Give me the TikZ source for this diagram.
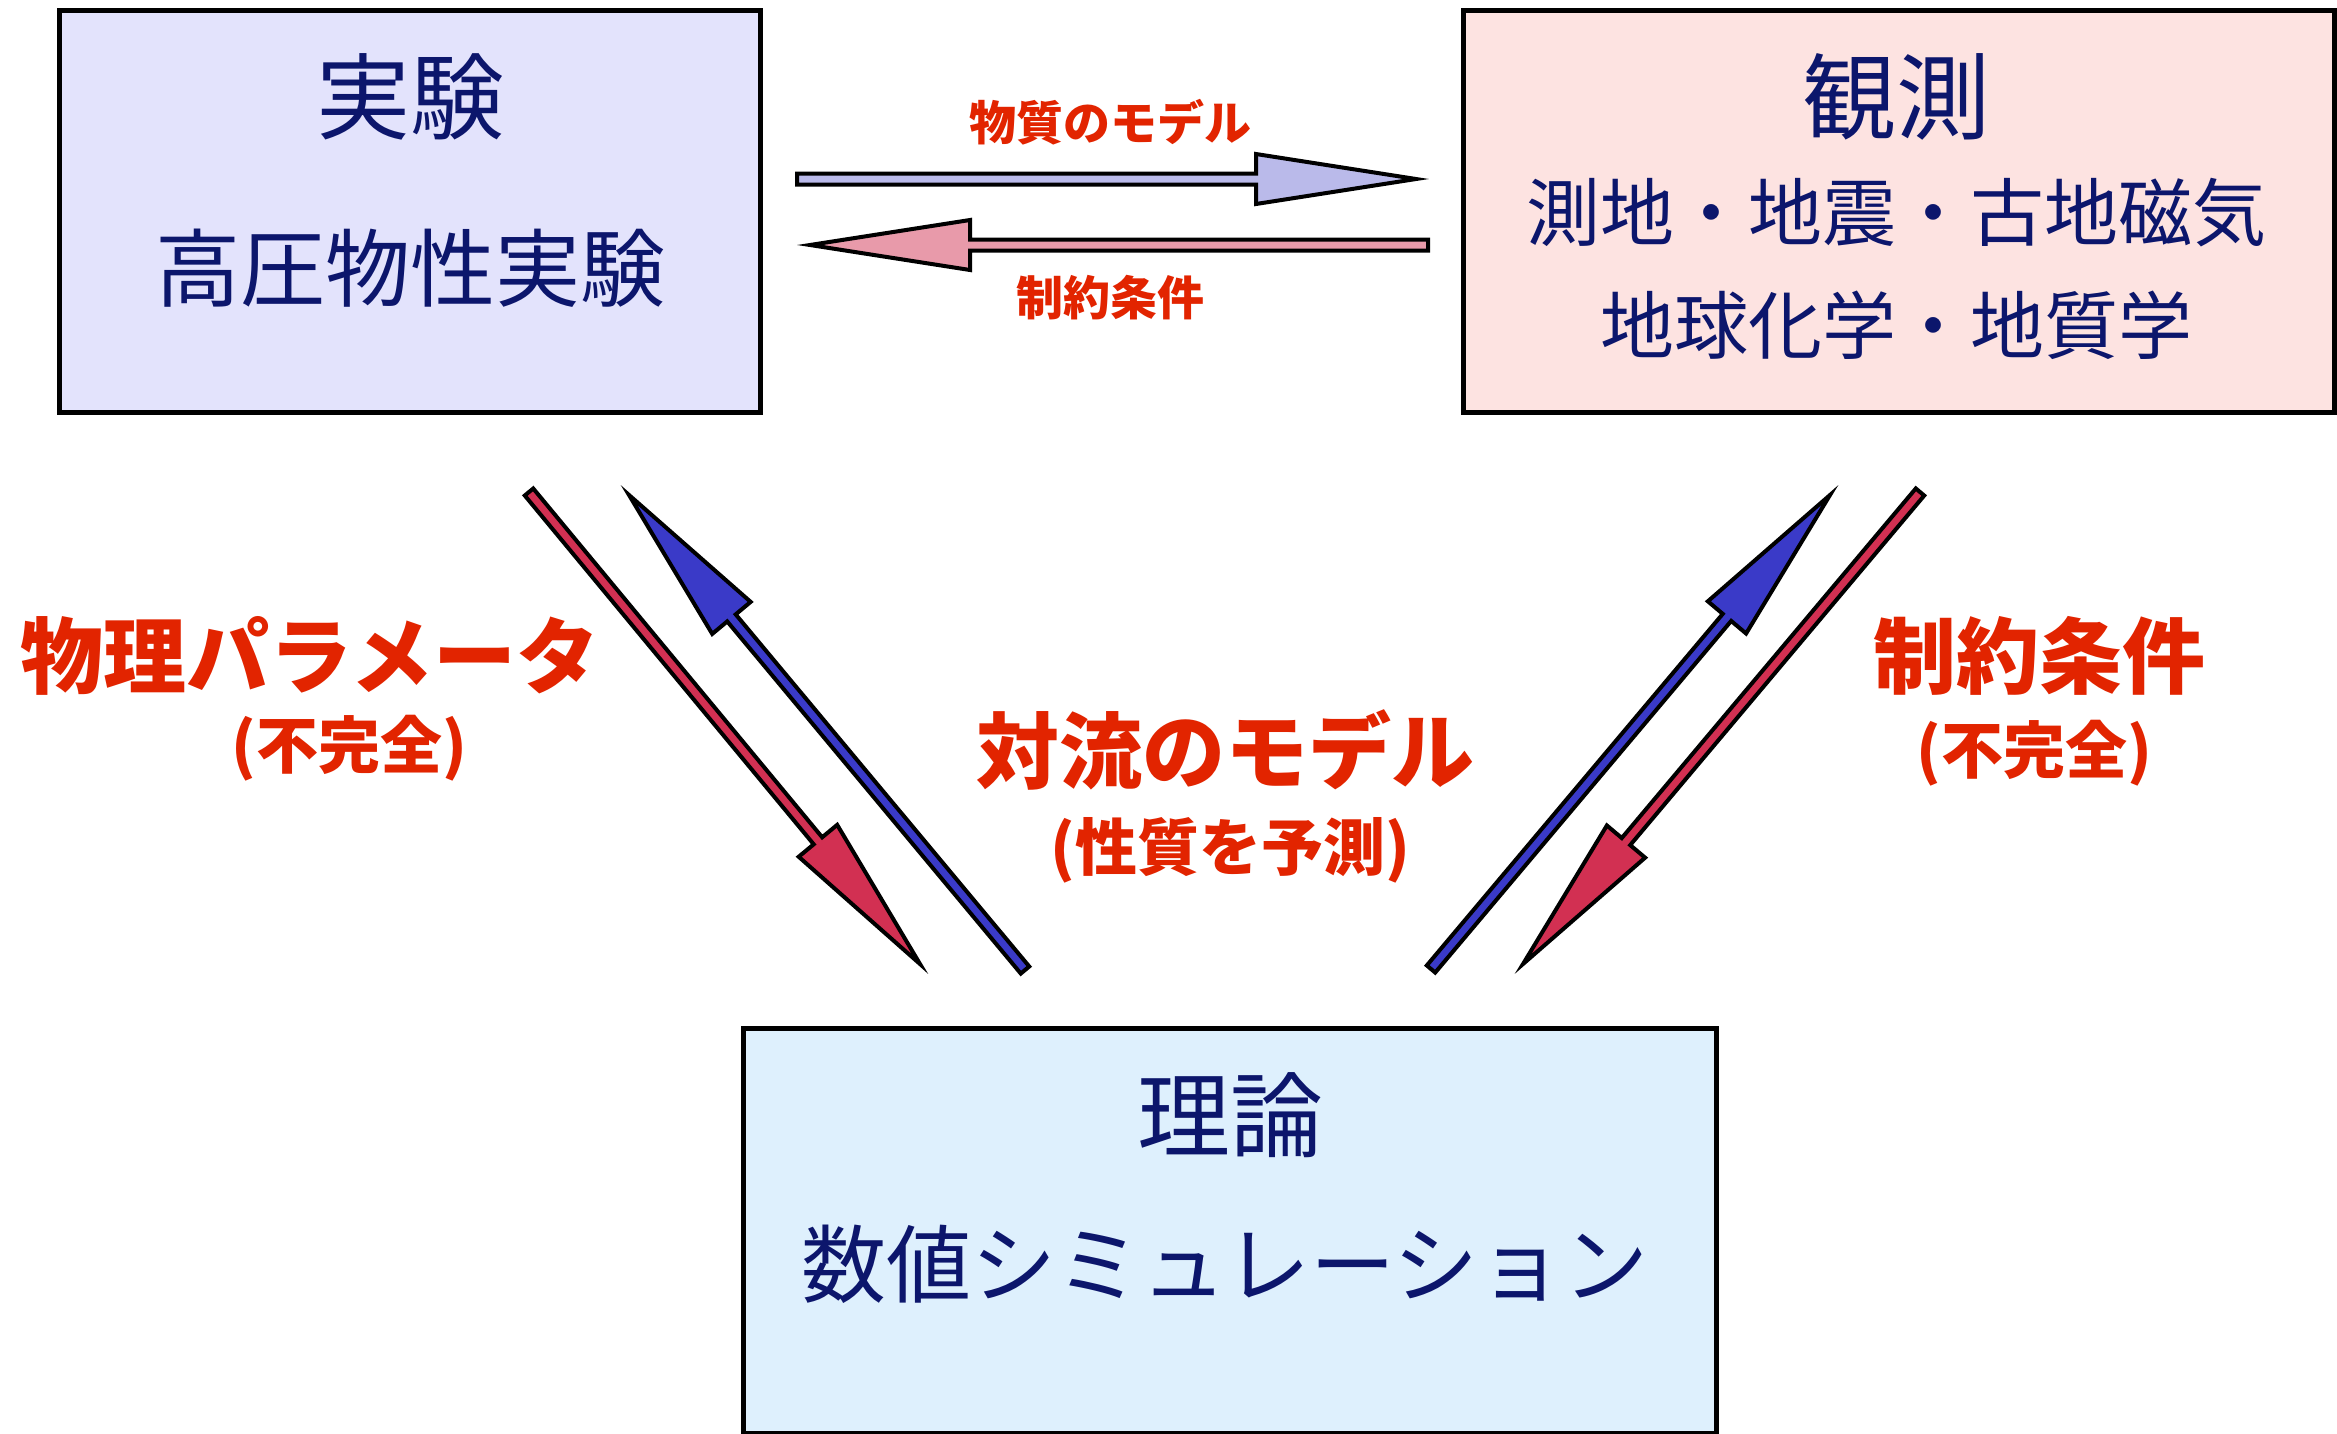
\documentclass[tikz,border=0pt]{standalone}
\usepackage{fontspec}
\newfontfamily\jp{Noto Sans CJK JP}
\usetikzlibrary{calc}
\definecolor{navy}{RGB}{12,22,108}
\definecolor{lred}{RGB}{226,36,0}
\definecolor{boxA}{RGB}{227,227,252}
\definecolor{boxB}{RGB}{253,227,225}
\definecolor{boxC}{RGB}{222,240,253}
\definecolor{arrP}{RGB}{186,186,234}
\definecolor{arrK}{RGB}{232,154,170}
\definecolor{arrR}{RGB}{210,48,82}
\definecolor{arrB}{RGB}{58,58,200}
\tikzset{
  panel/.style={draw=black, line width=5pt, inner sep=0pt, rectangle},
  boxtxt/.style={text=navy, inner sep=0pt, font=\jp\fontsize{#1}{#1}\selectfont},
  redtxt/.style={text=lred, inner sep=0pt, font=\jp\bfseries\fontsize{#1}{#1}\selectfont},
  arrowshape/.style={draw=black, line width=4pt, line join=miter}
}
\newcommand\blockarrow[3]{%
  \coordinate (#3-h) at ($(#3)!160pt!(#2)$);
  \filldraw[arrowshape, fill=#1]
    ($(#2)!5.5pt!90:(#3)$) -- ($(#3-h)!5.5pt!90:(#3)$) -- ($(#3-h)!25pt!90:(#3)$)
    -- (#3) -- ($(#3-h)!25pt!-90:(#3)$) -- ($(#3-h)!5.5pt!-90:(#3)$)
    -- ($(#2)!5.5pt!-90:(#3)$) -- cycle;}
\begin{document}
\begin{tikzpicture}[x=1pt,y=-1pt]
\useasboundingbox (0,0) rectangle (2337,1433);
\fill[white] (0,0) rectangle (2337,1433);

% boxes
\node[panel, fill=boxA, minimum width=701pt, minimum height=402pt] (exp) at (409.5,211) {};
\node[panel, fill=boxB, minimum width=871pt, minimum height=402pt] (obs) at (1898.5,211) {};
\node[panel, fill=boxC, minimum width=973pt, minimum height=405pt] (theo) at (1229.5,1230.5) {};

% box texts
\node[boxtxt=94pt] (expT) at (410,97) {実験};
\node[boxtxt=85pt] (expS) at (410,268) {高圧物性実験};
\node[boxtxt=94pt] (obsT) at (1896,97) {観測};
\node[boxtxt=74pt] (obsS1) at (1896,213) {測地・地震・古地磁気};
\node[boxtxt=74pt] (obsS2) at (1896,325) {地球化学・地質学};
\node[boxtxt=93pt] (theoT) at (1230,1115) {理論};
\node[boxtxt=85pt] (theoS) at (1225,1264) {数値シミュレーション};

% arrow end points
\coordinate (t1) at (797,179);  \coordinate (p1) at (1416,179);
\coordinate (t2) at (1428,245); \coordinate (p2) at (810,245);
\coordinate (t3) at (529,492);  \coordinate (p3) at (920,964);
\coordinate (t4) at (1025,970); \coordinate (p4) at (629,495);
\coordinate (t5) at (1431,969); \coordinate (p5) at (1830,495);
\coordinate (t6) at (1920,492); \coordinate (p6) at (1523,964);

\blockarrow{arrP}{t1}{p1}
\blockarrow{arrK}{t2}{p2}
\blockarrow{arrR}{t3}{p3}
\blockarrow{arrB}{t4}{p4}
\blockarrow{arrB}{t5}{p5}
\blockarrow{arrR}{t6}{p6}

% labels
\node[redtxt=47pt] (l1) at (1110,122) {物質のモデル};
\node[redtxt=47pt] (l2) at (1110,298) {制約条件};
\node[redtxt=83pt] (l3) at (310,656) {物理パラメータ};
\node[redtxt=62pt] (l3b) at (349,748) {(不完全)};
\node[redtxt=83pt] (l4) at (1225,750) {対流のモデル};
\node[redtxt=62pt] (l4b) at (1230,850) {(性質を予測)};
\node[redtxt=83pt] (l5) at (2039,656) {制約条件};
\node[redtxt=62pt] (l5b) at (2034,753) {(不完全)};
\end{tikzpicture}
\end{document}
